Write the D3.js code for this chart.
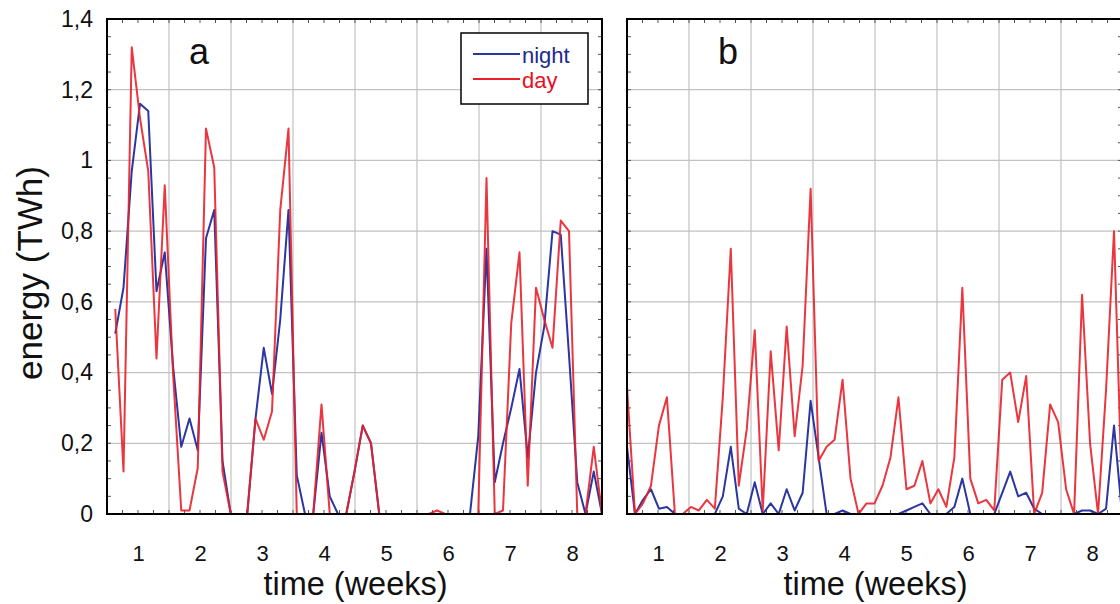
<!DOCTYPE html>
<html>
<head>
<meta charset="utf-8">
<script src="https://cdn.jsdelivr.net/npm/d3@7/dist/d3.min.js"></script>
<style>
  html, body { margin: 0; padding: 0; background: #fff; }
  svg { display: block; font-family: "Liberation Sans", Arial, sans-serif; }
</style>
</head>
<body>
<svg id="chart" width="1120" height="604"></svg>
<script>
// ---------- data ----------
const weekLabels = ["1", "2", "3", "4", "5", "6", "7", "8"];
const yTickValues = [0, 0.2, 0.4, 0.6, 0.8, 1.0, 1.2, 1.4];
const yTickLabels = ["0", "0,2", "0,4", "0,6", "0,8", "1", "1,2", "1,4"];
const panelLetters = ["a", "b"];
const seriesNames = ["night", "day"];

// panel a (first sample missing)
const nightA = [null, 0.51, 0.64, 0.97, 1.16, 1.14, 0.63, 0.74, 0.42, 0.19,
  0.27, 0.18, 0.78, 0.86, 0.15, 0, 0, 0, 0.27, 0.47,
  0.34, 0.55, 0.86, 0.11, 0, 0, 0.23, 0.05, 0, 0,
  0.12, 0.25, 0.20, 0, 0, 0, 0, 0, 0, 0,
  0, 0, 0, 0, 0, 0.22, 0.75, 0.09, 0.20, 0.30,
  0.41, 0.16, 0.40, 0.53, 0.80, 0.79, 0.45, 0.09, 0, 0.12,
  0];
const dayA = [null, 0.58, 0.12, 1.32, 1.12, 0.97, 0.44, 0.93, 0.40, 0.01,
  0.01, 0.13, 1.09, 0.98, 0.12, 0, 0, 0, 0.27, 0.21,
  0.29, 0.86, 1.09, 0, 0, 0, 0.31, 0, 0, 0,
  0.12, 0.25, 0.20, 0, 0, 0, 0, 0, 0, 0,
  0.01, 0, 0, 0, 0, 0, 0.95, 0, 0.01, 0.54,
  0.74, 0.08, 0.64, 0.55, 0.47, 0.83, 0.80, 0, 0, 0.19,
  0];

// panel b
const nightB = [0.19, 0, 0.04, 0.07, 0.015, 0.02, 0, 0, 0, 0,
  0, 0, 0.05, 0.19, 0.015, 0, 0.09, 0, 0.03, 0,
  0.07, 0.01, 0.06, 0.32, 0.16, 0, 0, 0.01, 0, 0,
  0, 0, 0, 0, 0, 0.01, 0.02, 0.03, 0, 0,
  0, 0.02, 0.10, 0, 0, 0, 0, 0.06, 0.12, 0.05,
  0.06, 0.015, 0, 0, 0, 0, 0, 0.01, 0.01, 0,
  0.015, 0.25, 0];
const dayB = [0.36, 0, 0.03, 0.08, 0.25, 0.33, 0, 0, 0.02, 0.01,
  0.04, 0.015, 0.33, 0.75, 0.08, 0.24, 0.52, 0.01, 0.46, 0.18,
  0.53, 0.22, 0.42, 0.92, 0.15, 0.19, 0.21, 0.38, 0.10, 0,
  0.03, 0.03, 0.08, 0.16, 0.33, 0.07, 0.08, 0.15, 0.03, 0.07,
  0.02, 0.16, 0.64, 0.10, 0.03, 0.04, 0.01, 0.38, 0.40, 0.26,
  0.39, 0, 0.06, 0.31, 0.26, 0.07, 0, 0.62, 0.20, 0,
  0.35, 0.80, 0.05];

// ---------- layout ----------
const svg = d3.select("#chart");
const topY = 19, bottomY = 514, pw = 495;
const panels = [
  { letter: panelLetters[0], left: 107, night: nightA, day: dayA, legend: true, yLabels: true },
  { letter: panelLetters[1], left: 627, night: nightB, day: dayB, legend: false, yLabels: false }
];
const colors = { night: "#2b36a0", day: "#e8202a" };
const textColors = { night: "#1c2a8c", day: "#e8101c" };

const y = d3.scaleLinear().domain([0, 1.4]).range([bottomY, topY]);
const week = d3.scaleLinear().domain([0.5, 0.5 + pw / 62]).range([0, pw]);

svg.append("defs").selectAll("clipPath").data(panels).join("clipPath")
  .attr("id", (d, i) => "clip" + i)
  .append("rect").attr("x", 0).attr("y", topY).attr("width", pw).attr("height", bottomY - topY);

panels.forEach((p, pi) => {
  const g = svg.append("g").attr("transform", `translate(${p.left},0)`);
  const x = d3.scaleLinear().domain([0, p.night.length - 1]).range([0, pw]);

  // grid
  g.append("g").selectAll("line").data(yTickValues.slice(1, -1)).join("line")
    .attr("x1", 0).attr("x2", pw).attr("y1", d => y(d)).attr("y2", d => y(d))
    .attr("stroke", "#c2c2c2").attr("stroke-width", 1.2);
  const gridWeeks = d3.range(1.5, 8, 1);
  g.append("g").selectAll("line").data(gridWeeks).join("line")
    .attr("x1", d => week(d)).attr("x2", d => week(d)).attr("y1", topY).attr("y2", bottomY)
    .attr("stroke", "#c2c2c2").attr("stroke-width", 1.2);

  // minor ticks
  const yMinor = d3.range(0.05, 1.4, 0.05);
  const xMinor = d3.range(0.75, 8.45, 0.25);
  const tk = g.append("g").attr("stroke", "#555").attr("stroke-width", 1);
  tk.append("g").selectAll("line").data(yMinor).join("line")
    .attr("x1", 0).attr("x2", 4).attr("y1", d => y(d)).attr("y2", d => y(d));
  tk.append("g").selectAll("line").data(yMinor).join("line")
    .attr("x1", pw - 4).attr("x2", pw).attr("y1", d => y(d)).attr("y2", d => y(d));
  tk.append("g").selectAll("line").data(xMinor).join("line")
    .attr("x1", d => week(d)).attr("x2", d => week(d)).attr("y1", bottomY - 4).attr("y2", bottomY);
  tk.append("g").selectAll("line").data(xMinor).join("line")
    .attr("x1", d => week(d)).attr("x2", d => week(d)).attr("y1", topY).attr("y2", topY + 4);

  // lines
  const line = d3.line().defined(d => d != null).x((d, i) => x(i)).y(d => y(d));
  const lg = g.append("g").attr("clip-path", `url(#clip${pi})`);
  lg.append("path").datum(p.night).attr("d", line).attr("fill", "none")
    .attr("stroke", colors.night).attr("stroke-width", 2).attr("stroke-linejoin", "round");
  lg.append("path").datum(p.day).attr("d", line).attr("fill", "none")
    .attr("stroke", colors.day).attr("stroke-width", 2).attr("stroke-linejoin", "round")
    .attr("stroke-opacity", 0.9);

  // frame
  g.append("rect").attr("x", 0).attr("y", topY).attr("width", pw).attr("height", bottomY - topY)
    .attr("fill", "none").attr("stroke", "#000").attr("stroke-width", 2);

  // x axis labels
  const xAxis = d3.axisBottom(week).tickValues(weekLabels.map(Number))
    .tickFormat((d, i) => weekLabels[i]).tickSize(0).tickPadding(31);
  const xa = g.append("g").attr("transform", `translate(0,${bottomY})`).call(xAxis);
  xa.select(".domain").remove();
  xa.selectAll("text").attr("font-size", 22).attr("fill", "#111")
    .attr("font-family", "'Liberation Sans', Arial, sans-serif");

  // y axis labels
  if (p.yLabels) {
    const yAxis = d3.axisLeft(y).tickValues(yTickValues)
      .tickFormat((d, i) => yTickLabels[i]).tickSize(0).tickPadding(14);
    const ya = g.append("g").call(yAxis);
    ya.select(".domain").remove();
    ya.selectAll("text").attr("font-size", 23).attr("fill", "#111")
      .attr("font-family", "'Liberation Sans', Arial, sans-serif");
  }

  // x title
  g.append("text").attr("x", pw / 2 + 1).attr("y", 595).attr("text-anchor", "middle")
    .attr("font-size", 32.5).attr("fill", "#111").text("time (weeks)");

  // panel letter
  g.append("text").attr("x", p.letter === "a" ? 92 : 101).attr("y", 64).attr("text-anchor", "middle")
    .attr("font-size", 36).attr("fill", "#111").text(p.letter);

  // legend
  if (p.legend) {
    const lx = 461 - p.left, ly = 33;
    const leg = g.append("g");
    leg.append("rect").attr("x", lx).attr("y", ly).attr("width", 127).attr("height", 71)
      .attr("fill", "#fff").attr("stroke", "#000").attr("stroke-width", 1.5);
    seriesNames.forEach((name, i) => {
      const yy = ly + 21 + i * 25;
      leg.append("line").attr("x1", lx + 12).attr("x2", lx + 59).attr("y1", yy).attr("y2", yy)
        .attr("stroke", colors[name]).attr("stroke-width", 2);
      leg.append("text").attr("x", lx + 61).attr("y", yy + 9).attr("font-size", 22)
        .attr("fill", textColors[name]).text(name);
    });
  }
});

// y title
svg.append("text").attr("transform", "translate(42,273) rotate(-90)")
  .attr("text-anchor", "middle").attr("font-size", 35).attr("fill", "#111").text("energy (TWh)");
</script>
</body>
</html>
